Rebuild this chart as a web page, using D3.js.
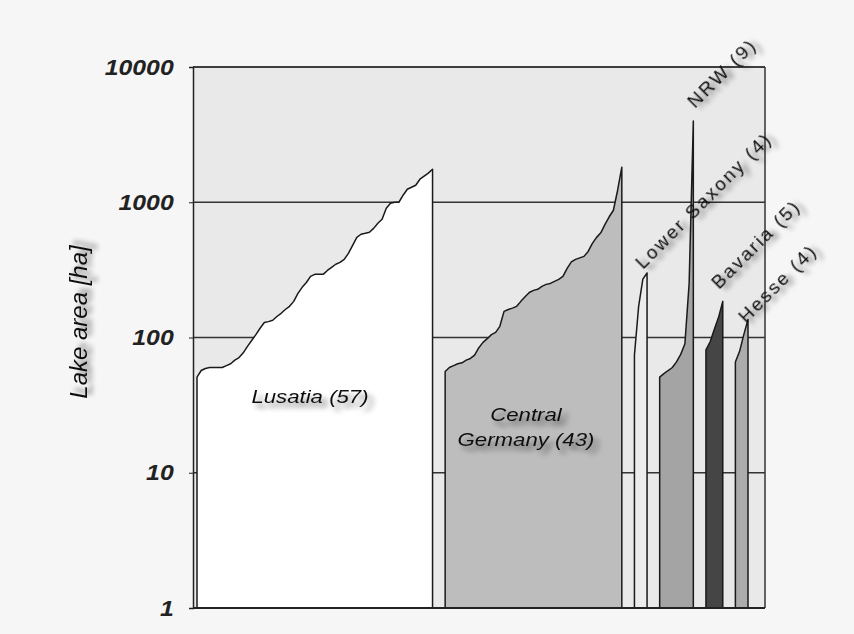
<!DOCTYPE html>
<html><head><meta charset="utf-8">
<script src="https://cdn.jsdelivr.net/npm/d3@7"></script>
<style>body{margin:0;background:#f6f6f6;} svg{display:block;font-family:"Liberation Sans",Arial,sans-serif}</style>
</head><body><svg id="chart" width="854" height="634"></svg>
<script>
// ---- data (lake areas in ha, sorted ascending per region) ----
const regionNames = ["Lusatia", "Central Germany", "Lower Saxony", "NRW", "Bavaria", "Hesse"];
const lusatia = [51,57,59,60,60,60,60,62,64,68,71,77,86,95,105,117,129,131,134,143,151,161,170,185,212,235,255,283,293,293,293,313,330,348,359,378,419,480,550,580,589,600,641,699,748,904,984,1000,1000,1127,1248,1291,1336,1480,1559,1641,1755];
const centralGermany = [56,60,62,64,65,68,70,74,84,92,98,105,109,121,156,161,165,170,185,200,215,223,227,239,247,251,260,269,283,324,362,378,388,398,433,497,550,594,687,781,873,1227,1816];
const lowerSaxony = [74,170,270,300];
const nrw = [51,54,57,60,66,75,90,250,3980];
const bavaria = [81,93,115,141,185];
const hesse = [66,79,105,136];
const yTicks = [1,10,100,1000,10000];
const gapSlots = 3;

const seriesValues = [lusatia, centralGermany, lowerSaxony, nrw, bavaria, hesse];
const fills = ["#ffffff", "#bdbdbd", "#ececec", "#a4a4a4", "#454545", "#acacac"];

// build series with slot offsets
let offset = 0;
const series = seriesValues.map((vals, k) => {
  const s = {name: regionNames[k], values: vals, start: offset, fill: fills[k]};
  offset += vals.length - 1 + gapSlots;
  return s;
});
const lastSlot = offset - gapSlots;

const svg = d3.select("#chart");
const L = 193, R = 765, T = 67, B = 608;

const x = d3.scaleLinear().domain([0, lastSlot]).range([197, 748]);
const y = d3.scaleLog().domain([1, 10000]).range([B, T]);

const defs = svg.append("defs");
const f = defs.append("filter").attr("id", "shadow").attr("x", "-20%").attr("y", "-40%").attr("width", "150%").attr("height", "200%");
f.append("feGaussianBlur").attr("in", "SourceAlpha").attr("stdDeviation", 2.6).attr("result", "b");
f.append("feOffset").attr("in", "b").attr("dx", 4).attr("dy", 5).attr("result", "o");
f.append("feComponentTransfer").attr("in", "o").attr("result", "s")
  .append("feFuncA").attr("type", "linear").attr("slope", 0.5);
const m = f.append("feMerge");
m.append("feMergeNode").attr("in", "s");
m.append("feMergeNode").attr("in", "SourceGraphic");

// plot background
svg.append("rect").attr("x", L).attr("y", T).attr("width", R - L).attr("height", B - T).attr("fill", "#e9e9e9");

// gridlines
svg.append("g").selectAll("line").data(yTicks.slice(1)).join("line")
  .attr("x1", L).attr("x2", R).attr("y1", d => y(d)).attr("y2", d => y(d))
  .attr("stroke", "#333").attr("stroke-width", 1.5);

// areas
const area = d3.area()
  .x(d => d.x)
  .y0(y(1))
  .y1(d => y(d.v));
svg.append("g").selectAll("path").data(series).join("path")
  .attr("d", s => area(s.values.map((v, i) => ({x: x(s.start + i), v}))))
  .attr("fill", s => s.fill)
  .attr("stroke", "#1a1a1a").attr("stroke-width", 1.5).attr("stroke-linejoin", "round");

// frame
svg.append("line").attr("x1", R).attr("x2", R).attr("y1", T).attr("y2", B).attr("stroke", "#333").attr("stroke-width", 1.5);
svg.append("line").attr("x1", L).attr("x2", R).attr("y1", T).attr("y2", T).attr("stroke", "#333").attr("stroke-width", 1.5);

// y axis
const yAxis = d3.axisLeft(y).tickValues(yTicks).tickFormat(d3.format("d")).tickSize(4).tickPadding(12);
const ga = svg.append("g").attr("transform", `translate(${L},0)`).call(yAxis);
ga.select(".domain").attr("stroke", "#222").attr("stroke-width", 1.5);
ga.selectAll(".tick line").attr("stroke", "#222");
ga.selectAll(".tick text")
  .attr("font-size", 22).attr("font-weight", "bold").attr("font-style", "italic")
  .attr("fill", "#222").attr("font-family", "'Liberation Sans',Arial,sans-serif")
  .attr("transform", "translate(-17,0) scale(1.13,1)")
  .attr("x", -2);

// x axis baseline
svg.append("line").attr("x1", L).attr("x2", R).attr("y1", B).attr("y2", B).attr("stroke", "#222").attr("stroke-width", 2);

// axis title
svg.append("text").attr("transform", "translate(87,322) rotate(-90)")
  .attr("text-anchor", "middle").attr("font-size", 24).attr("font-style", "italic")
  .attr("fill", "#111").attr("filter", "url(#shadow)")
  .text("Lake area [ha]");

// region labels
const lbl = s => `${s.name} (${s.values.length})`;
svg.append("text").attr("transform", "translate(310,403) scale(1.2,1)")
  .attr("text-anchor", "middle").attr("font-size", 18.5).attr("font-style", "italic")
  .attr("fill", "#111").attr("filter", "url(#shadow)").text(lbl(series[0]));
const cg = svg.append("text").attr("text-anchor", "middle").attr("font-size", 18.5).attr("font-style", "italic")
  .attr("fill", "#111").attr("filter", "url(#shadow)");
cg.append("tspan").attr("x", 0).attr("y", 0).text("Central");
cg.append("tspan").attr("x", 0).attr("y", 25).text(`Germany (${series[1].values.length})`);
cg.attr("transform", "translate(526,421) scale(1.2,1)");

const rotLabels = [
  {s: series[3], px: 695, py: 109},
  {s: series[2], px: 643, py: 270},
  {s: series[4], px: 719, py: 290},
  {s: series[5], px: 746, py: 324}
];
svg.append("g").selectAll("text").data(rotLabels).join("text")
  .attr("transform", d => `translate(${d.px},${d.py}) rotate(-45)`)
  .attr("font-size", 19).attr("letter-spacing", 2.2)
  .attr("fill", "#111").attr("filter", "url(#shadow)")
  .text(d => lbl(d.s));
</script></body></html>
